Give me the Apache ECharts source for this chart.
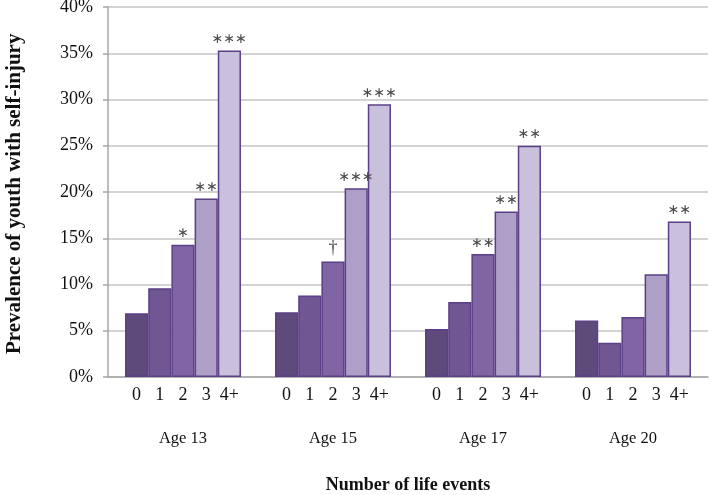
<!DOCTYPE html>
<html>
<head>
<meta charset="utf-8">
<script src="https://cdn.jsdelivr.net/npm/echarts@6/dist/echarts.min.js"></script>
<style>html,body{margin:0;padding:0;background:#fff}#c{width:711px;height:495px}</style>
</head>
<body>
<div id="c"></div>
<script>
const ages = ['Age 13', 'Age 15', 'Age 17', 'Age 20'];
const levels = ['0', '1', '2', '3', '4+'];
const yTicks = [0, 5, 10, 15, 20, 25, 30, 35, 40];
// prevalence (%) by number of life events, per age group
const events0 = [6.9, 7.0, 5.2, 6.1];
const events1 = [9.6, 8.8, 8.1, 3.7];
const events2 = [14.3, 12.5, 13.3, 6.5];
const events3 = [19.3, 20.4, 17.9, 11.1];
const events4 = [35.3, 29.5, 25.0, 16.8];
const sig0 = ['', '', '', ''];
const sig1 = ['', '', '', ''];
const sig2 = ['*', '†', '**', ''];
const sig3 = ['**', '***', '**', ''];
const sig4 = ['***', '***', '**', '**'];

const values = [events0, events1, events2, events3, events4];
const sigs = [sig0, sig1, sig2, sig3, sig4];
const colors = ['#5f4a7c', '#705793', '#8164a3', '#ad9fc6', '#c9c1dc'];
const serif = 'Liberation Serif';

const series = [];
levels.forEach((lv, i) => {
  series.push({
    type: 'bar', name: lv, stack: 's' + i, data: values[i],
    barGap: '0%', barCategoryGap: '22.7%',
    itemStyle: { color: colors[i], borderColor: '#5b3f87', borderWidth: 1.5 },
    label: { show: true, position: 'bottom', distance: 9, formatter: lv,
      fontFamily: serif, fontSize: 18, color: '#111' },
    silent: true
  });
  series.push({
    type: 'bar', name: 'sig' + i, stack: 's' + i,
    data: sigs[i].map(() => 0),
    itemStyle: { color: 'rgba(0,0,0,0)', borderWidth: 0 },
    label: { show: true, position: 'top', distance: 4,
      formatter: p => { const s = sigs[i][p.dataIndex]; return s === '†' ? '{d|†}' : s.replace(/\*/g, '\u2217'); },
      rich: { d: { fontFamily: serif, fontSize: 18, color: '#4a4a4a' } },
      fontFamily: 'DejaVu Sans', fontSize: 14, color: '#4a4a4a' },
    silent: true
  });
});

const chart = echarts.init(document.getElementById('c'), null, { renderer: 'canvas' });
chart.setOption({
  animation: false,
  grid: { left: 108, right: 3, top: 7, bottom: 118, containLabel: false, outerBoundsMode: 'none' },
  xAxis: {
    type: 'category', data: ages,
    axisLine: { lineStyle: { color: '#a6a6a6', width: 1.5 } },
    axisTick: { show: false },
    axisLabel: { margin: 53, fontFamily: serif, fontSize: 16.5, color: '#111' },
    name: 'Number of life events', nameLocation: 'middle', nameGap: 99,
    nameTextStyle: { fontFamily: serif, fontSize: 18, fontWeight: 'bold', color: '#111' }
  },
  yAxis: {
    type: 'value', min: 0, max: 40, interval: 5,
    axisLine: { show: true, lineStyle: { color: '#a6a6a6', width: 1.5 } },
    axisTick: { show: true, inside: false, length: 5, lineStyle: { color: '#a6a6a6', width: 1.5 } },
    splitLine: { lineStyle: { color: '#c4c4c4', width: 1.5 } },
    axisLabel: { margin: 15, fontFamily: serif, fontSize: 18, color: '#111',
      formatter: v => yTicks.includes(v) ? v + '%' : '' }
  },
  graphic: [{
    type: 'text',
    style: { text: 'Prevalence of youth with self-injury', font: 'bold 21px "Liberation Serif"', fill: '#111' },
    rotation: Math.PI / 2,
    x: 4, y: 354
  }],
  series: series
});
</script>
</body>
</html>
